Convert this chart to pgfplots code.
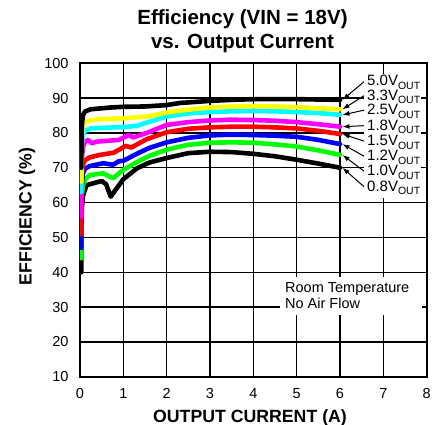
\documentclass[border=0pt]{standalone}
\usepackage{pgfplots}
\pgfplotsset{compat=1.18}
\usetikzlibrary{arrows.meta}
\usepackage{fontspec}
\setmainfont{Liberation Sans}
\definecolor{cYel}{RGB}{255,255,0}
\definecolor{cCyan}{RGB}{0,255,255}
\definecolor{cMag}{RGB}{255,0,255}
\definecolor{cRed}{RGB}{255,0,0}
\definecolor{cBlue}{RGB}{0,0,255}
\definecolor{cGreen}{RGB}{0,255,0}
\begin{document}
\begin{tikzpicture}
\useasboundingbox (-80pt,-48.3pt) rectangle (367pt,376.7pt);
\begin{axis}[
  at={(0pt,0pt)}, anchor=south west,
  scale only axis, width=346.7pt, height=313.4pt,
  xmin=0, xmax=8, ymin=10, ymax=100,
  xtick={0,1,...,8}, ytick={10,20,...,100},
  grid=major,
  major grid style={black, line width=1.4pt},
  axis line style={line width=2pt},
  major tick length=0pt,
  /pgf/number format/assume math mode=true,
  tick label style={font=\fontsize{14.5}{16}\selectfont},
  xticklabel style={yshift=-8pt},
  yticklabel style={xshift=-8pt},
  every axis plot/.append style={line width=4.6pt, line join=round, line cap=round, no markers},
]
% 0.8V
\addplot[black] coordinates {(0.03,40) (0.04,58) (0.07,62) (0.15,65.0) (0.5,66.2) (0.6,65.3) (0.71,61.7) (0.8,63.3) (1.0,66.7) (1.31,69.8) (1.6,71.5) (2,72.8) (2.5,74.2) (3,74.6) (3.5,74.5) (4,74.0) (4.5,73.3) (5,72.3) (5.5,71.2) (6,70.0)};
% 1.0V
\addplot[cGreen] coordinates {(0.03,44) (0.04,62) (0.07,65) (0.12,66.7) (0.23,67.9) (0.54,68.4) (0.69,67.4) (0.77,67.0) (0.92,68.6) (1.0,69.4) (1.31,71.6) (1.6,73.4) (2,75.2) (2.5,76.6) (3,77.2) (3.5,77.3) (4,77.2) (4.5,76.7) (5,76.1) (5.5,75.0) (6,73.7)};
% 1.2V
\addplot[cBlue] coordinates {(0.03,47) (0.04,65) (0.07,68.5) (0.12,69.8) (0.23,70.5) (0.54,71.3) (0.69,71.0) (0.77,70.9) (0.9,71.9) (1.0,72.0) (1.31,74.0) (1.6,75.7) (2,77.3) (2.5,78.6) (3,79.3) (3.5,79.5) (4,79.4) (4.5,79.2) (5,78.9) (5.5,78.0) (6,76.8)};
% 1.5V
\addplot[cRed] coordinates {(0.03,51) (0.04,68) (0.07,71) (0.12,72.2) (0.23,73.0) (0.46,73.7) (0.77,74.3) (0.92,75.3) (1.05,76.3) (1.18,75.8) (1.3,76.6) (1.54,78.2) (2,80.2) (2.5,81.2) (3,81.6) (3.5,81.8) (4,81.8) (4.5,81.6) (5,81.3) (5.5,80.6) (6,79.7)};
% 1.8V
\addplot[cMag] coordinates {(0.03,56) (0.04,72) (0.07,76) (0.12,77.5) (0.19,78.0) (0.27,77.0) (0.38,77.5) (0.9,78.0) (1.12,79.4) (1.23,78.7) (1.54,80.0) (2,82.3) (2.5,83.1) (3,83.6) (3.5,83.8) (4,83.7) (4.5,83.5) (5,83.1) (5.5,82.5) (6,81.8)};
% 2.5V
\addplot[cCyan] coordinates {(0.03,63) (0.04,76) (0.07,79.5) (0.12,80.6) (0.25,81.3) (1,81.7) (1.3,82.0) (1.6,83.2) (2,84.7) (2.5,85.6) (3,86.0) (3.5,86.2) (4,86.3) (4.5,86.2) (5,86.0) (5.5,85.7) (6,85.2)};
% 3.3V
\addplot[cYel] coordinates {(0.03,66) (0.04,79) (0.07,82.3) (0.12,83.3) (0.4,83.9) (1,84.2) (1.6,84.8) (2,85.9) (2.5,86.7) (3,87.3) (3.5,87.6) (4,87.7) (4.5,87.6) (5,87.4) (5.5,87.1) (6,86.8)};
% 5.0V
\addplot[black] coordinates {(0.03,70) (0.04,82) (0.07,85.2) (0.12,86.2) (0.25,86.8) (0.7,87.3) (1,87.5) (1.5,87.6) (2,88.0) (2.3,88.6) (3,89.2) (3.5,89.5) (4,89.7) (5,89.7) (6,89.5)};
\end{axis}
% title
\node[anchor=base, font=\bfseries\fontsize{20.5}{22}\selectfont] at (162.5pt,351.7pt) {Efficiency (VIN = 18V)};
\node[anchor=base, font=\bfseries\fontsize{20.5}{22}\selectfont] at (162.5pt,328.4pt) {vs. Output Current};
% axis labels
\node[anchor=base, font=\bfseries\fontsize{17.7}{20}\selectfont] at (170pt,-46pt) {OUTPUT CURRENT (A)};
\node[anchor=base, rotate=90, font=\bfseries\fontsize{17.7}{20}\selectfont] at (-48.3pt,160.2pt) {EFFICIENCY (\%)};
% note box
\fill[white] (200pt,61.7pt) rectangle (341.7pt,100pt);
\node[anchor=base west, font=\fontsize{14.5}{16}\selectfont, inner sep=0pt] at (205pt,84pt) {Room Temperature};
\node[anchor=base west, font=\fontsize{14.5}{16}\selectfont, inner sep=0pt] at (205pt,67.7pt) {No Air Flow};
% right labels
\tikzset{vlab/.style={anchor=base west, fill=white, inner xsep=1pt, inner ysep=1.5pt, font=\fontsize{15}{16}\selectfont}}
\newcommand{\vo}[1]{#1V\raisebox{-3.5pt}{\fontsize{10.5}{11}\selectfont OUT}}
\fill[white] (284pt,179pt) rectangle (341pt,303pt);
\node[vlab] at (286pt,290.7pt) {\vo{5.0}};
\node[vlab] at (286pt,276.2pt) {\vo{3.3}};
\node[vlab] at (286pt,261.7pt) {\vo{2.5}};
\node[vlab] at (286pt,246.2pt) {\vo{1.8}};
\node[vlab] at (286pt,230.7pt) {\vo{1.5}};
\node[vlab] at (286pt,215.7pt) {\vo{1.2}};
\node[vlab] at (286pt,200.7pt) {\vo{1.0}};
\node[vlab] at (286pt,185.2pt) {\vo{0.8}};
% arrows (start at label, tip at curve end x=6)
\tikzset{varr/.style={-{Latex[length=7pt,width=5pt]}, line width=1pt, black}}
\draw[varr] (284pt,295pt) -- (262.5pt,276.8pt);
\draw[varr] (284pt,281pt) -- (262.5pt,267.4pt);
\draw[varr] (284pt,266.5pt) -- (262.5pt,261.8pt);
\draw[varr] (284pt,251pt) -- (262.5pt,250pt);
\draw[varr] (284pt,235.5pt) -- (262.5pt,242.7pt);
\draw[varr] (284pt,220.5pt) -- (262.5pt,232.6pt);
\draw[varr] (284pt,205.5pt) -- (262.5pt,221.8pt);
\draw[varr] (284pt,190pt) -- (262.5pt,208.9pt);
\end{tikzpicture}
\end{document}
